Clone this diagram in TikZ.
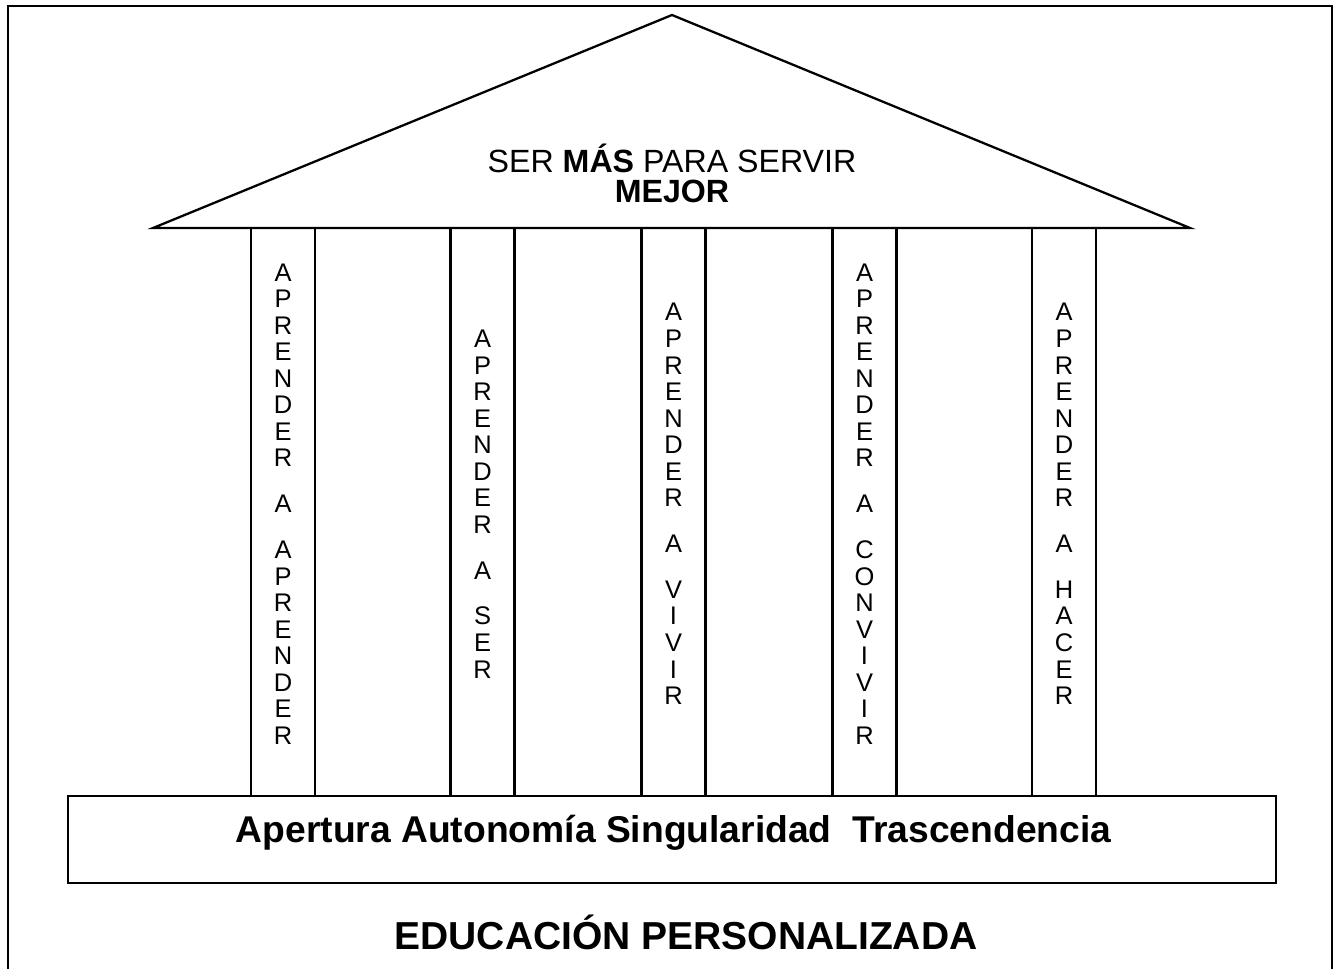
\documentclass[tikz,border=0pt]{standalone}
\usepackage{fontspec}
\setmainfont{Liberation Sans}
\usetikzlibrary{positioning, calc, fit}

\tikzset{
  frameline/.style={line width=1.3pt},
  pillar/.style={draw, line width=1.3pt},
  letters/.style={align=center, inner sep=0pt, font=\fontsize{14.5}{15.1}\selectfont},
}

\begin{document}
\begin{tikzpicture}[x=0.02cm, y=-0.02cm]
\useasboundingbox (0,0) rectangle (1334,969);
% outer frame, open at the bottom
\draw[frameline] (8,969) -- (8,6) -- (1332,6) -- (1332,969);

% roof
\draw[line width=1.3pt, line join=miter] (153,228) -- (672,15) -- (1190,228) -- cycle;
\node[align=center, font=\fontsize{18.3}{17}\selectfont] (lema) at (672,173)
  {SER \textbf{MÁS} PARA SERVIR\\ \textbf{MEJOR}};

% pillars
\foreach \x in {283, 482.5, 673.5, 864.5, 1064}
  \draw[pillar] (\x-32,228) rectangle (\x+32,796);

\node[letters] (aprender) at (283,504)
  {A\\P\\R\\E\\N\\D\\E\\R\\[11pt]A\\[11pt]A\\P\\R\\E\\N\\D\\E\\R};
\node[letters] (ser) at (482.5,504)
  {A\\P\\R\\E\\N\\D\\E\\R\\[11pt]A\\[11pt]S\\E\\R};
\node[letters] (vivir) at (673.5,504)
  {A\\P\\R\\E\\N\\D\\E\\R\\[11pt]A\\[11pt]V\\I\\V\\I\\R};
\node[letters] (convivir) at (864.5,504)
  {A\\P\\R\\E\\N\\D\\E\\R\\[11pt]A\\[11pt]C\\O\\N\\V\\I\\V\\I\\R};
\node[letters] (hacer) at (1064,504)
  {A\\P\\R\\E\\N\\D\\E\\R\\[11pt]A\\[11pt]H\\A\\C\\E\\R};

% base
\draw[line width=1.4pt] (68,796) rectangle (1276,883);
\node[font=\bfseries\fontsize{21.2}{25}\selectfont] (valores) at (673.5,833)
  {Apertura Autonomía Singularidad\ \ Trascendencia};

\node[font=\bfseries\fontsize{22.2}{26}\selectfont] (titulo) at (686,932)
  {EDUCACIÓN PERSONALIZADA};
\end{tikzpicture}
\end{document}
